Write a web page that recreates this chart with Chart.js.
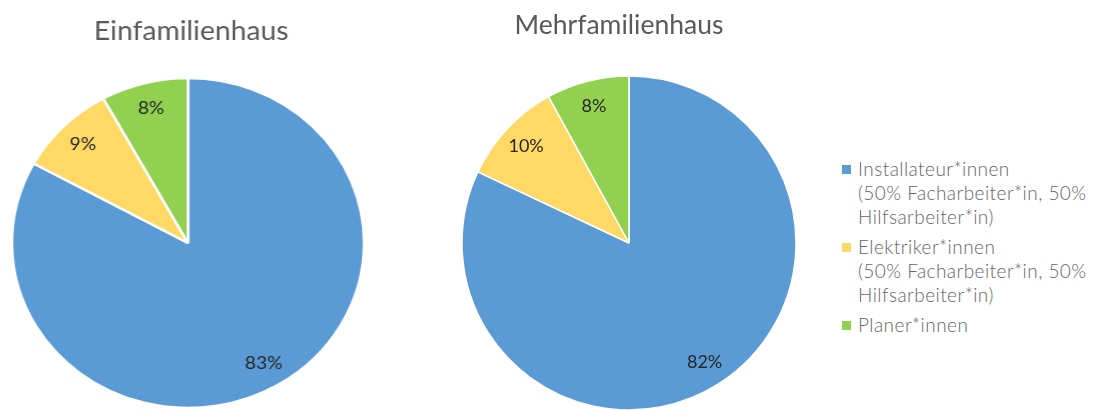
<!DOCTYPE html>
<html>
<head>
<meta charset="utf-8">
<script src="https://cdn.jsdelivr.net/npm/chart.js@4.4.1/dist/chart.umd.min.js"></script>
<style>
  html, body { margin: 0; padding: 0; background: #fff; }
  body { width: 1102px; height: 410px; overflow: hidden; position: relative; }
  .pie { position: absolute; width: 340px; }
  #leftWrap { left: 17.5px; top: 0; height: 430px; transform: scaleX(1.067); transform-origin: 170px 243px; }
  #rightWrap { left: 459px; top: 0; height: 436px; }
  #legend { position: absolute; left: 842px; top: 157px; font-family: "Lato", sans-serif; font-weight: 300; font-size: 19px; letter-spacing: 0.45px; color: #666666; }
  .item { display: flex; align-items: flex-start; margin-bottom: 6px; }
  .box { width: 9px; height: 9px; margin: 8px 7px 0 0; flex: none; }
  .lines div { line-height: 24px; white-space: nowrap; }
</style>
</head>
<body>
<div id="leftWrap" class="pie"><canvas id="einChart"></canvas></div>
<div id="rightWrap" class="pie"><canvas id="mehrChart"></canvas></div>
<div id="legend"></div>

<script>
const categories = [
  ["Installateur*innen", "(50% Facharbeiter*in, 50%", "Hilfsarbeiter*in)"],
  ["Elektriker*innen", "(50% Facharbeiter*in, 50%", "Hilfsarbeiter*in)"],
  ["Planer*innen"]
];
const einfamilienValues = [83, 9, 8];
const mehrfamilienValues = [82, 10, 8];
const colors = ["#5B9BD5", "#FFD966", "#92D050"];

// percent labels inside the slices
const sliceLabels = {
  id: "sliceLabels",
  afterDatasetsDraw(chart) {
    const ctx = chart.ctx;
    const meta = chart.getDatasetMeta(0);
    ctx.save();
    ctx.font = "18px Lato";
    ctx.fillStyle = "#262626";
    ctx.textAlign = "center";
    ctx.textBaseline = "middle";
    meta.data.forEach((arc, i) => {
      const p = arc.getProps(["x", "y", "startAngle", "endAngle", "outerRadius"], true);
      const mid = (p.startAngle + p.endAngle) / 2;
      const r = p.outerRadius * 0.845;
      ctx.fillText(chart.data.datasets[0].data[i] + "%", p.x + Math.cos(mid) * r, p.y + Math.sin(mid) * r);
    });
    ctx.restore();
  }
};

// chart title, placed a bit off the pie centre like in the original
const pieTitle = {
  id: "pieTitle",
  afterDraw(chart, args, opts) {
    const ctx = chart.ctx;
    ctx.save();
    ctx.font = "26.5px Lato";
    ctx.fillStyle = "#595959";
    ctx.textAlign = "center";
    ctx.textBaseline = "alphabetic";
    ctx.fillText(opts.text, opts.x, opts.y);
    ctx.restore();
  }
};

function renderPie(id, title, data, radius, border, padTop, titleX, titleY) {
  new Chart(document.getElementById(id), {
    type: "pie",
    data: {
      labels: categories,
      datasets: [{
        data,
        backgroundColor: colors,
        borderColor: "#ffffff",
        borderWidth: border,
        radius
      }]
    },
    options: {
      responsive: true,
      maintainAspectRatio: false,
      animation: false,
      layout: { padding: { top: padTop } },
      plugins: {
        legend: { display: false },
        tooltip: { enabled: false },
        pieTitle: { text: title, x: titleX, y: titleY }
      }
    },
    plugins: [sliceLabels, pieTitle]
  });
}

renderPie("einChart", "Einfamilienhaus", einfamilienValues, 165, 2.5, 56, 173, 39.5);
renderPie("mehrChart", "Mehrfamilienhaus", mehrfamilienValues, 167, 1.5, 50, 160, 33.5);

// legend
const legend = document.getElementById("legend");
categories.forEach((lines, i) => {
  const item = document.createElement("div");
  item.className = "item";
  item.innerHTML = '<div class="box" style="background:' + colors[i] + '"></div><div class="lines">' +
    lines.map(l => "<div>" + l + "</div>").join("") + "</div>";
  legend.appendChild(item);
});
</script>
</body>
</html>
